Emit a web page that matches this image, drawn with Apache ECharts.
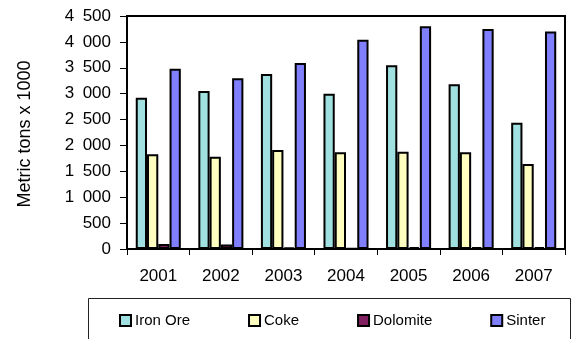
<!DOCTYPE html>
<html>
<head>
<meta charset="utf-8">
<script src="https://cdn.jsdelivr.net/npm/echarts@6/dist/echarts.min.js"></script>
<style>
  html, body { margin: 0; padding: 0; background: #fff; }
  #chart { width: 574px; height: 339px; }
</style>
</head>
<body>
<div id="chart"></div>
<script>
// Raw material consumption, thousands of metric tons per year
const years = ['2001', '2002', '2003', '2004', '2005', '2006', '2007'];
const ironOre  = [2920, 3050, 3380, 3000, 3550, 3180, 2440];
const coke     = [1830, 1780, 1910, 1870, 1880, 1870, 1640];
const dolomite = [95, 85, 30, 10, 35, 35, 35];
const sinter   = [3480, 3300, 3590, 4040, 4300, 4250, 4200];
const seriesNames = ['Iron Ore', 'Coke', 'Dolomite', 'Sinter'];
const yTicks = { min: 0, max: 4500, interval: 500 };

const colors = ['#a0e0e0', '#ffffc0', '#802060', '#8080ff'];
const font = "'Liberation Sans', Arial, sans-serif";

function thousands(v) {
  const s = String(v);
  return s.length > 3 ? s.slice(0, -3) + '\u2002' + s.slice(-3) : s;
}

function barSeries(name, data, color) {
  return {
    name: name,
    type: 'bar',
    data: data,
    barGap: '0%',
    barCategoryGap: '28%',
    itemStyle: { color: color, borderColor: '#000', borderWidth: 2 },
    emphasis: { disabled: true }
  };
}

const chart = echarts.init(document.getElementById('chart'), null, { renderer: 'canvas' });
chart.setOption({
  animation: false,
  backgroundColor: '#fff',
  grid: {
    left: 127, right: 9, top: 16, bottom: 90,
    show: true, borderColor: '#000', borderWidth: 2, backgroundColor: 'transparent'
  },
  legend: {
    data: seriesNames,
    left: 119,
    top: 313,
    itemWidth: 11,
    itemHeight: 11,
    itemGap: 58,
    padding: 0,
    icon: 'rect',
    textStyle: { fontFamily: font, fontSize: 15, color: '#000', padding: [0, 0, 0, -1] },
    itemStyle: { borderColor: '#000', borderWidth: 2 }
  },
  xAxis: {
    type: 'category',
    data: years,
    axisLine: { lineStyle: { color: '#000', width: 2 } },
    axisTick: { show: true, length: 6, lineStyle: { color: '#000' } },
    axisLabel: { fontFamily: font, fontSize: 17, color: '#000', margin: 19 }
  },
  yAxis: {
    type: 'value',
    min: yTicks.min, max: yTicks.max, interval: yTicks.interval,
    axisLine: { show: true, lineStyle: { color: '#000', width: 2 } },
    axisTick: { show: true, length: 7, lineStyle: { color: '#000' } },
    splitLine: { show: false },
    axisLabel: { fontFamily: font, fontSize: 17, color: '#000', margin: 16, formatter: thousands }
  },
  graphic: [
    {
      type: 'rect',
      shape: { x: 88.5, y: 298.5, width: 482, height: 60 },
      style: { fill: 'none', stroke: '#222', lineWidth: 1 },
      z: -1
    },
    {
      type: 'text',
      x: 25, y: 134,
      rotation: Math.PI / 2,
      style: {
        text: 'Metric tons x 1000',
        font: '18px ' + font,
        fill: '#000',
        align: 'center',
        verticalAlign: 'middle'
      }
    }
  ],
  series: [
    barSeries(seriesNames[0], ironOre, colors[0]),
    barSeries(seriesNames[1], coke, colors[1]),
    barSeries(seriesNames[2], dolomite, colors[2]),
    barSeries(seriesNames[3], sinter, colors[3])
  ]
});
</script>
</body>
</html>
